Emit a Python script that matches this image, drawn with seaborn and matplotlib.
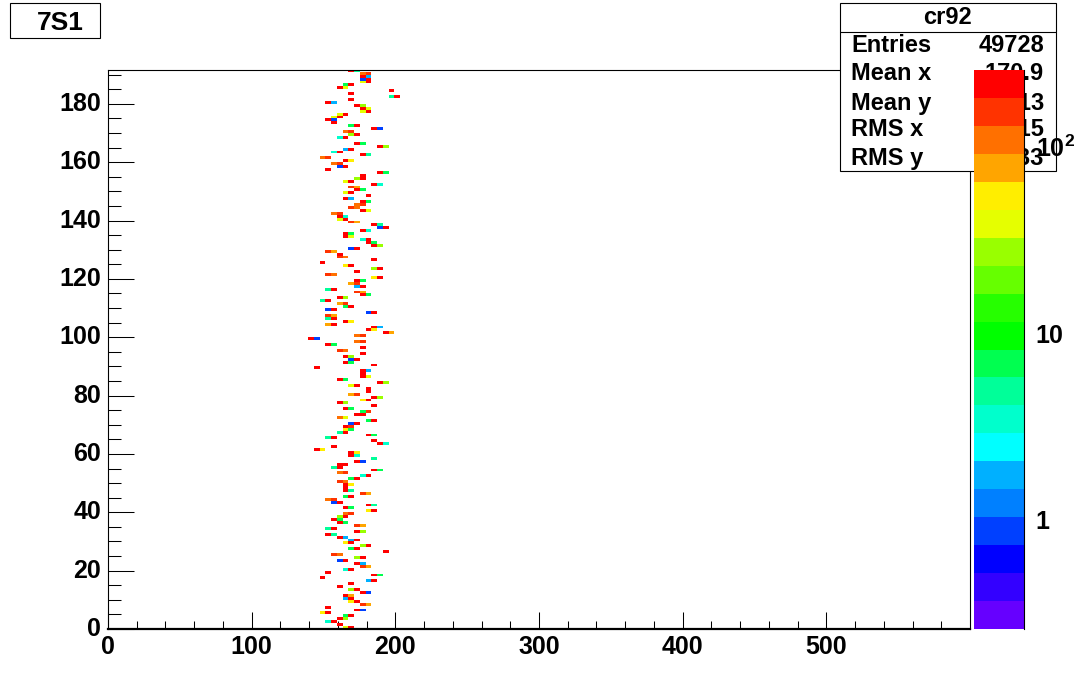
import numpy as np
import pandas as pd
import matplotlib
matplotlib.use("Agg")
import matplotlib.pyplot as plt
import seaborn as sns
from matplotlib.colors import ListedColormap, LogNorm
from matplotlib.patches import Rectangle
from matplotlib.ticker import NullFormatter
from matplotlib.transforms import ScaledTranslation

sns.set_style("white")
plt.rcParams["font.family"] = ["Liberation Sans", "DejaVu Sans"]
plt.rcParams["font.weight"] = "bold"
plt.rcParams["mathtext.fontset"] = "custom"
plt.rcParams["mathtext.bf"] = "Liberation Sans:bold"
plt.rcParams["text.color"] = "black"
plt.rcParams["xtick.color"] = "black"
plt.rcParams["ytick.color"] = "black"

# estimated cell contents, read from the colour bands of the palette
R, OR, DO, O, Y, L, YG, G, T, C, LB, B = 230, 155, 110, 78, 55, 42, 27, 8, 5, 3.5, 1.8, 1

# x bin of the left cell for every y row, row 191 first (0 = empty row)
row_bin = [
    42, 44, 44, 44, 44, 41, 40, 49, 42, 49, 42, 38, 43, 44, 44, 40, 39, 38, 39, 42,
    46, 41, 42, 40, 0, 43, 47, 41, 39, 44, 37, 41, 39, 40, 38, 47, 44, 43, 41, 46,
    42, 43, 41, 45, 41, 44, 43, 42, 44, 39, 40, 40, 42, 46, 47, 44, 41, 41, 44, 45,
    46, 42, 38, 40, 40, 46, 37, 41, 46, 43, 38, 46, 43, 42, 43, 38, 43, 44, 40, 37,
    40, 41, 38, 45, 38, 38, 41, 38, 46, 45, 48, 43, 35, 43, 38, 44, 40, 44, 41, 42,
    41, 46, 36, 44, 44, 44, 40, 47, 42, 45, 45, 42, 46, 44, 40, 46, 41, 44, 43, 40,
    45, 42, 41, 41, 40, 45, 38, 46, 47, 39, 36, 42, 42, 46, 43, 40, 39, 46, 40, 44,
    42, 40, 41, 41, 41, 44, 41, 38, 39, 45, 41, 45, 41, 40, 39, 40, 43, 38, 43, 38,
    40, 42, 41, 44, 42, 48, 39, 43, 40, 43, 44, 41, 38, 46, 37, 45, 42, 40, 42, 44,
    41, 41, 42, 44, 38, 43, 37, 41, 40, 38, 40, 41,
]
left_count = [
    R, DO, R, B, L, G, R, R, R, T, R, R, R, R, L, L, L, R, R, G,
    R, DO, YG, C, 0, R, R, LB, C, R, DO, R, DO, B, R, R, R, YG, L, R,
    OR, R, L, R, R, R, DO, OR, R, DO, R, L, OR, R, B, R, R, R, C, R,
    R, B, OR, R, OR, R, R, Y, YG, R, OR, Y, R, O, LB, T, OR, R, R, T,
    O, G, B, B, OR, T, R, O, R, R, R, DO, R, DO, R, R, OR, R, R, B,
    R, R, R, R, R, R, R, R, L, R, R, O, R, Y, R, R, R, G, R, DO,
    G, B, R, Y, T, R, T, R, R, R, R, R, R, T, R, R, T, R, DO, C,
    G, OR, R, R, R, OR, G, DO, B, R, R, Y, DO, YG, R, R, OR, T, R, R,
    R, LB, Y, YG, G, R, OR, YG, B, R, OR, C, R, R, R, LB, R, R, YG, R,
    R, LB, Y, OR, R, R, Y, G, R, C, R, L,
]
right_count = [
    T, OR, LB, R, R, R, L, 0, 0, R, 0, LB, YG, L, R, R, R, B, 0, R,
    B, OR, R, R, 0, G, YG, R, R, T, OR, Y, OR, R, 0, G, 0, R, R, C,
    O, G, R, 0, LB, G, OR, DO, L, OR, C, R, O, T, R, C, G, L, R, G,
    YG, R, O, 0, DO, 0, 0, R, R, 0, DO, R, G, OR, R, R, O, G, YG, R,
    OR, R, R, R, O, R, Y, R, LB, Y, O, OR, B, OR, G, 0, DO, 0, YG, R,
    G, 0, 0, LB, 0, L, G, YG, R, 0, 0, OR, YG, R, YG, 0, G, OR, R, L,
    R, R, OR, G, R, G, R, 0, C, 0, Y, Y, C, 0, B, R, R, G, OR, R,
    R, DO, Y, 0, T, O, R, OR, R, T, G, R, OR, R, G, G, O, R, YG, T,
    LB, R, R, R, R, 0, DO, R, R, LB, O, R, 0, G, 0, R, 0, 0, R, B,
    O, R, R, O, 0, B, R, R, YG, R, 0, R,
]
assert len(row_bin) == len(left_count) == len(right_count) == 192

# stats box and axis texts
hist_title = "7S1"
stats_name = "cr92"
stats_labels = ["Entries", "Mean x", "Mean y", "RMS x", "RMS y"]
stats_values = ["49728", "170.9", "96.13", "11.15", "55.33"]

x_major = [0, 100, 200, 300, 400, 500]
x_minor = [v for v in range(0, 600, 20) if v % 100 != 0]
y_major = [0, 20, 40, 60, 80, 100, 120, 140, 160, 180]
y_minor = [v for v in range(0, 192, 5) if v % 20 != 0]

palette = [
    "#6600ff", "#3300ff", "#0000ff", "#0040ff", "#0080ff", "#00b0ff", "#00ffff",
    "#00ffcc", "#00ff99", "#00ff50", "#00ff00", "#26ff00", "#66ff00", "#99ff00",
    "#e5ff00", "#ffee00", "#ffa500", "#ff7000", "#ff3300", "#ff0000",
]

W, H = 1077, 700


def fig_rect(x0, y0, x1, y1):
    # pixel box (y going down) to figure fractions
    return [x0 / W, 1 - y1 / H, (x1 - x0) / W, (y1 - y0) / H]


# fill the 150 x 192 histogram
grid = np.zeros((192, 150))
for i in range(len(row_bin)):
    row = 191 - i
    if left_count[i] > 0:
        grid[row, row_bin[i]] = left_count[i]
    if right_count[i] > 0:
        grid[row, row_bin[i] + 1] = right_count[i]
df = pd.DataFrame(grid)

fig = plt.figure(figsize=(W / 100, H / 100), dpi=100)
ax = fig.add_axes(fig_rect(108, 70, 970, 629))
cax = fig.add_axes(fig_rect(974, 70, 1024, 629))
cax.set_zorder(5)

sns.heatmap(df, mask=df <= 0, cmap=ListedColormap(palette), norm=LogNorm(vmin=0.26, vmax=258),
            ax=ax, cbar_ax=cax, xticklabels=False, yticklabels=False, linecolor="none")

ax.set_xlim(0, 150)
ax.set_ylim(0, 191.6)

# cells sit one pixel left of the ticks in the original
mesh = ax.collections[0]
mesh.set_transform(ax.transData + ScaledTranslation(-1 / fig.dpi, 0, fig.dpi_scale_trans))

for side in ["left", "bottom", "top", "right"]:
    ax.spines[side].set_visible(True)
    ax.spines[side].set_color("black")
    ax.spines[side].set_linewidth(0.8)
ax.spines["bottom"].set_linewidth(1.6)

ax.set_xticks([v / 4 for v in x_major], [str(v) for v in x_major], rotation=0)
ax.set_xticks([v / 4 for v in x_minor], minor=True)
ax.set_yticks(y_major, [str(v) for v in y_major], rotation=0, va="center")
ax.set_yticks(y_minor, minor=True)
ax.tick_params(axis="x", which="major", direction="in", bottom=True, length=12.2, width=0.75,
               labelsize=18, pad=4)
ax.tick_params(axis="x", which="minor", direction="in", bottom=True, length=6, width=0.75)
ax.tick_params(axis="y", which="major", direction="in", left=True, length=18.7, width=0.75,
               labelsize=18, pad=5)
ax.tick_params(axis="y", which="minor", direction="in", left=True, length=9.4, width=0.75)

# colour bar with the ticks inside and only the right edge drawn
cbar = mesh.colorbar
cbar.outline.set_visible(False)
cbar.set_ticks([1, 10, 100], labels=["1", "10", r"$\mathbf{10^{2}}$"])
cax.set_yticks([0.3, 0.4, 0.5, 0.6, 0.7, 0.8, 0.9, 2, 3, 4, 5, 6, 7, 8, 9,
                20, 30, 40, 50, 60, 70, 80, 90, 200], minor=True)
cax.yaxis.set_minor_formatter(NullFormatter())
cax.spines["right"].set_visible(True)
cax.spines["right"].set_color("black")
cax.spines["right"].set_linewidth(0.8)
cax.tick_params(axis="y", which="major", direction="in", right=True, left=False, length=18.7,
                width=0.75, labelsize=18, pad=8.5)
cax.tick_params(axis="y", which="minor", direction="in", right=True, left=False, length=9.4,
                width=0.75)

# title box
fig.add_artist(Rectangle((10 / W, 1 - 38 / H), 90 / W, 35 / H, transform=fig.transFigure,
                         facecolor="white", edgecolor="black", linewidth=0.8))
fig.text(60 / W, 1 - 29.5 / H, hist_title, ha="center", va="baseline", fontsize=19)

# stats box, the colour bar sits on top of it
fig.add_artist(Rectangle((840 / W, 1 - 171 / H), 216 / W, 168 / H, transform=fig.transFigure,
                         facecolor="white", edgecolor="black", linewidth=0.8, zorder=2))
fig.add_artist(plt.Line2D([840 / W, 1056 / W], [1 - 32 / H, 1 - 32 / H], transform=fig.transFigure,
                          color="black", linewidth=0.8, zorder=2))
fig.text(948 / W, 1 - 24 / H, stats_name, ha="center", va="baseline", fontsize=17, zorder=2)
stats_y = [52, 80, 110, 136, 165]
for i in range(len(stats_labels)):
    fig.text(851 / W, 1 - stats_y[i] / H, stats_labels[i], ha="left", va="baseline", fontsize=17, zorder=2)
    fig.text(1044 / W, 1 - stats_y[i] / H, stats_values[i], ha="right", va="baseline", fontsize=17, zorder=2)

fig.savefig("out.png", dpi=100)
